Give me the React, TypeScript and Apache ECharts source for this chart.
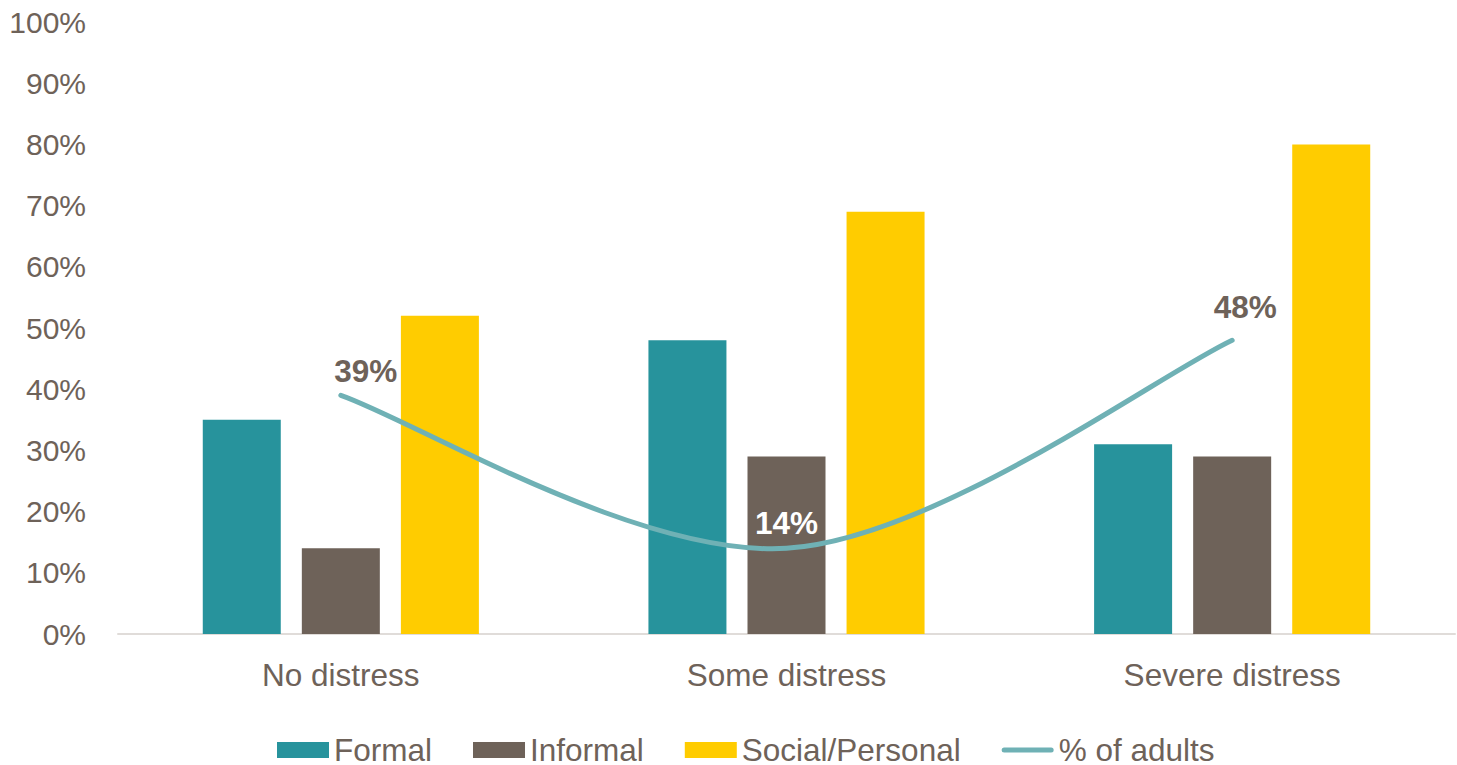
import React, { useEffect, useRef } from "react";
import * as echarts from "echarts";

const categories = ["No distress", "Some distress", "Severe distress"];
const formal = [35, 48, 31];
const informal = [14, 29, 29];
const socialPersonal = [52, 69, 80];
const adults = [39, 14, 48];
const yTicks = [0, 100, 10];

const TEXT = "#6e6259";
const LINE = "#6fb1b5";

export default function App() {
  const ref = useRef<HTMLDivElement>(null);
  useEffect(() => {
    const chart = echarts.init(ref.current!, null, { renderer: "svg" });
    const font = "'Liberation Sans', Arial, sans-serif";
    const labelOffsets = [[25, 0], [0, -1], [13, -9]];
    const labelColors = [TEXT, "#ffffff", TEXT];
    const lineIcon =
      "path://M0,0 L0.01,0 L0,0.01 Z M2.5,5.5 L49.5,5.5 A2.5,2.5 0 0 1 49.5,10.5 L2.5,10.5 A2.5,2.5 0 0 1 2.5,5.5 Z M52,16 L51.99,16 L52,15.99 Z";
    chart.setOption({
      animation: false,
      backgroundColor: "#ffffff",
      textStyle: { fontFamily: font },
      grid: { left: 118, right: 2, top: 22, bottom: 131, containLabel: false },
      legend: {
        left: 272,
        top: 729,
        itemGap: 41,
        itemWidth: 52,
        itemHeight: 16,
        textStyle: { color: TEXT, fontSize: 31.5, lineHeight: 24, fontFamily: font },
        data: [
          { name: "Formal", icon: "rect" },
          { name: "Informal", icon: "rect" },
          { name: "Social/Personal", icon: "rect" },
          { name: "% of adults", icon: lineIcon, itemStyle: { color: LINE } },
        ],
      },
      xAxis: {
        type: "category",
        data: categories,
        axisLine: { show: true, lineStyle: { color: "#e0dcd9", width: 2 } },
        axisTick: { show: false },
        axisLabel: { color: TEXT, fontSize: 31.5, margin: 25, fontFamily: font },
      },
      yAxis: {
        type: "value",
        min: yTicks[0],
        max: yTicks[1],
        interval: yTicks[2],
        splitLine: { show: false },
        axisLine: { show: false },
        axisTick: { show: false },
        axisLabel: {
          color: TEXT,
          fontSize: 30,
          margin: 32,
          fontFamily: font,
          formatter: (v: number) => v + "%",
        },
      },
      series: [
        {
          name: "Formal",
          type: "bar",
          data: formal,
          barWidth: 78,
          barGap: "27%",
          itemStyle: { color: "#27939c" },
        },
        {
          name: "Informal",
          type: "bar",
          data: informal,
          barWidth: 78,
          barGap: "27%",
          itemStyle: { color: "#6e6259" },
        },
        {
          name: "Social/Personal",
          type: "bar",
          data: socialPersonal,
          barWidth: 78,
          barGap: "27%",
          itemStyle: { color: "#ffcc00" },
        },
        {
          name: "% of adults",
          type: "custom",
          data: adults.map((v, i) => [i, v]),
          itemStyle: { color: LINE },
          z: 5,
          renderItem: (params: any, api: any) => {
            if (params.dataIndex !== 0) return null;
            const p = adults.map((v, i) => api.coord([i, v]));
            const n = p.length;
            const get = (i: number) => p[Math.max(0, Math.min(n - 1, i))];
            let d = `M${p[0][0]},${p[0][1]}`;
            for (let i = 0; i < n - 1; i++) {
              const p0 = get(i - 1);
              const p1 = get(i);
              const p2 = get(i + 1);
              const p3 = get(i + 2);
              const c1x = p1[0] + (p2[0] - p0[0]) / 6;
              const c1y = p1[1] + (p2[1] - p0[1]) / 6;
              const c2x = p2[0] - (p3[0] - p1[0]) / 6;
              const c2y = p2[1] - (p3[1] - p1[1]) / 6;
              d += ` C${c1x},${c1y} ${c2x},${c2y} ${p2[0]},${p2[1]}`;
            }
            return {
              type: "path",
              shape: { pathData: d },
              style: { stroke: LINE, lineWidth: 5, fill: "none", lineCap: "round" },
            };
          },
        },
        {
          name: "adults-labels",
          type: "scatter",
          data: adults.map((v, i) => ({
            value: v,
            label: { offset: labelOffsets[i], color: labelColors[i] },
          })),
          symbolSize: 0,
          itemStyle: { color: "rgba(0,0,0,0)", opacity: 1 },
          label: {
            show: true,
            position: "top",
            distance: 8,
            fontSize: 31.5,
            fontWeight: "bold",
            fontFamily: font,
            formatter: (p: any) => p.value + "%",
          },
          z: 6,
        },
      ],
    });
    return () => chart.dispose();
  }, []);
  return (
    <div
      ref={ref}
      style={{ position: "fixed", left: 0, top: 0, width: 1457, height: 765 }}
    />
  );
}
